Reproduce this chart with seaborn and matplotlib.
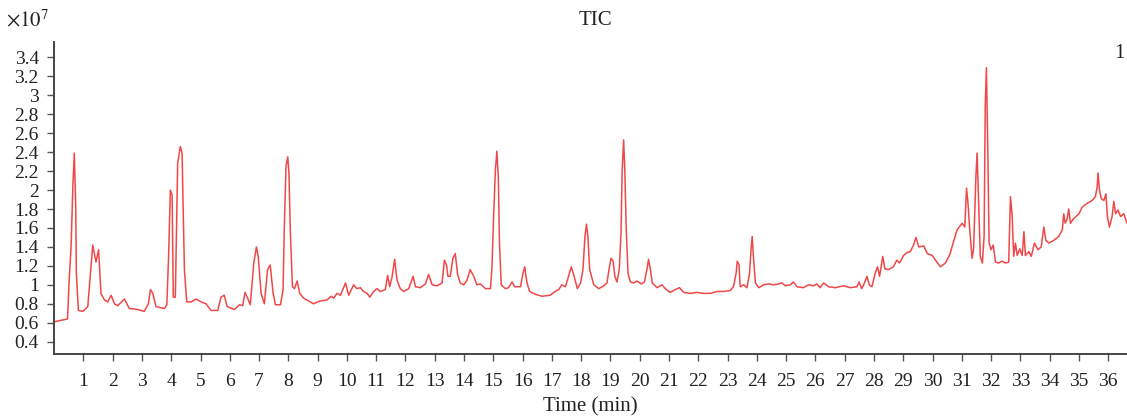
import numpy as np
import pandas as pd
import matplotlib
matplotlib.use("Agg")
import matplotlib.pyplot as plt
import seaborn as sns

# Tempo de retencao (min) e intensidade do TIC (x1e7)
tempo = [
    0.00, 0.46, 0.51, 0.58, 0.64, 0.69, 0.74, 0.76, 0.83, 0.98, 1.15, 1.24, 1.32, 1.43, 1.52,
    1.60, 1.72, 1.83, 1.95, 2.06, 2.17, 2.40, 2.57, 2.85, 3.08, 3.22, 3.29, 3.37, 3.48, 3.77,
    3.85, 3.91, 3.97, 4.03, 4.07, 4.14, 4.22, 4.31, 4.37, 4.45, 4.53, 4.68, 4.85, 5.02, 5.19,
    5.36, 5.59, 5.70, 5.81, 5.91, 6.16, 6.33, 6.44, 6.52, 6.61, 6.70, 6.82, 6.91, 6.97, 7.07,
    7.18, 7.29, 7.38, 7.48, 7.56, 7.73, 7.82, 7.86, 7.92, 7.98, 8.02, 8.07, 8.14, 8.21, 8.30,
    8.39, 8.52, 8.69, 8.86, 9.09, 9.32, 9.46, 9.55, 9.66, 9.78, 9.95, 10.06, 10.23, 10.34, 10.46,
    10.57, 10.69, 10.78, 10.91, 11.03, 11.14, 11.31, 11.39, 11.46, 11.54, 11.63, 11.71, 11.82, 11.94, 12.11,
    12.26, 12.34, 12.51, 12.68, 12.79, 12.91, 13.08, 13.25, 13.33, 13.40, 13.45, 13.53, 13.62, 13.70, 13.78,
    13.87, 13.99, 14.10, 14.21, 14.33, 14.44, 14.56, 14.73, 14.90, 14.95, 15.01, 15.07, 15.12, 15.17, 15.21,
    15.27, 15.41, 15.52, 15.64, 15.73, 15.93, 16.01, 16.07, 16.15, 16.24, 16.43, 16.66, 16.94, 17.11, 17.23,
    17.34, 17.46, 17.57, 17.66, 17.76, 17.87, 17.98, 18.06, 18.13, 18.18, 18.23, 18.29, 18.43, 18.60, 18.77,
    18.88, 18.95, 19.02, 19.09, 19.15, 19.22, 19.30, 19.36, 19.40, 19.45, 19.49, 19.54, 19.60, 19.68, 19.79,
    19.91, 20.05, 20.16, 20.25, 20.30, 20.36, 20.43, 20.59, 20.76, 20.87, 21.04, 21.21, 21.36, 21.50, 21.73,
    21.95, 22.18, 22.41, 22.64, 22.86, 23.09, 23.20, 23.29, 23.33, 23.39, 23.43, 23.55, 23.66, 23.75, 23.80,
    23.84, 23.89, 23.95, 24.06, 24.23, 24.40, 24.57, 24.74, 24.86, 24.97, 25.14, 25.25, 25.37, 25.59, 25.76,
    25.94, 26.05, 26.16, 26.28, 26.45, 26.68, 26.96, 27.19, 27.42, 27.49, 27.58, 27.66, 27.76, 27.84, 27.93,
    28.04, 28.12, 28.19, 28.30, 28.37, 28.49, 28.66, 28.78, 28.87, 29.01, 29.12, 29.24, 29.35, 29.43, 29.53,
    29.70, 29.82, 29.99, 30.10, 30.27, 30.44, 30.59, 30.73, 30.84, 31.01, 31.10, 31.16, 31.21, 31.27, 31.35,
    31.40, 31.48, 31.52, 31.57, 31.63, 31.70, 31.76, 31.80, 31.84, 31.89, 31.93, 32.00, 32.07, 32.15, 32.26,
    32.37, 32.49, 32.60, 32.66, 32.72, 32.77, 32.83, 32.89, 32.98, 33.06, 33.12, 33.17, 33.29, 33.37, 33.48,
    33.60, 33.71, 33.80, 33.87, 33.97, 34.14, 34.31, 34.43, 34.48, 34.53, 34.60, 34.65, 34.71, 34.82, 35.00,
    35.11, 35.28, 35.45, 35.56, 35.62, 35.65, 35.70, 35.76, 35.85, 35.92, 35.97, 36.04, 36.13, 36.19, 36.25,
    36.33, 36.42, 36.53, 36.64,
]
intensidade = [
    0.61, 0.64, 1.02, 1.40, 2.03, 2.39, 1.81, 1.12, 0.73, 0.72, 0.77, 1.12, 1.42, 1.24, 1.37,
    0.91, 0.84, 0.82, 0.89, 0.80, 0.78, 0.85, 0.75, 0.74, 0.72, 0.80, 0.95, 0.91, 0.77, 0.75,
    0.79, 1.30, 2.00, 1.95, 0.87, 0.87, 2.28, 2.46, 2.39, 1.16, 0.82, 0.82, 0.85, 0.82, 0.80,
    0.73, 0.73, 0.87, 0.89, 0.77, 0.74, 0.79, 0.78, 0.92, 0.86, 0.79, 1.23, 1.40, 1.30, 0.91,
    0.80, 1.16, 1.21, 0.91, 0.79, 0.79, 0.95, 1.58, 2.25, 2.35, 2.18, 1.54, 0.98, 0.96, 1.04,
    0.91, 0.86, 0.83, 0.80, 0.83, 0.84, 0.88, 0.86, 0.91, 0.89, 1.02, 0.89, 1.00, 0.96, 0.97,
    0.93, 0.91, 0.87, 0.93, 0.96, 0.93, 0.95, 1.10, 0.98, 1.08, 1.27, 1.05, 0.96, 0.93, 0.96,
    1.09, 0.98, 0.97, 1.01, 1.11, 1.00, 0.99, 1.02, 1.26, 1.21, 1.09, 1.09, 1.28, 1.33, 1.11,
    1.02, 1.00, 1.05, 1.16, 1.09, 1.00, 1.01, 0.96, 0.96, 1.16, 1.72, 2.21, 2.41, 2.14, 1.44,
    1.00, 0.96, 0.97, 1.03, 0.98, 0.98, 1.12, 1.19, 1.02, 0.93, 0.90, 0.88, 0.89, 0.93, 0.95,
    1.00, 0.98, 1.09, 1.19, 1.09, 0.96, 1.02, 1.16, 1.51, 1.64, 1.51, 1.16, 1.00, 0.96, 0.99,
    1.02, 1.16, 1.28, 1.25, 1.09, 1.03, 1.16, 1.54, 2.21, 2.53, 2.21, 1.58, 1.12, 1.03, 1.02,
    1.04, 1.01, 1.03, 1.17, 1.27, 1.17, 1.02, 0.97, 1.00, 0.96, 0.92, 0.95, 0.97, 0.92, 0.91,
    0.92, 0.91, 0.91, 0.93, 0.93, 0.94, 0.98, 1.12, 1.25, 1.21, 0.98, 1.00, 0.97, 1.12, 1.37,
    1.51, 1.26, 1.02, 0.97, 1.00, 1.01, 1.00, 1.01, 1.02, 0.99, 1.00, 1.03, 0.98, 0.97, 1.00,
    0.99, 1.01, 0.97, 1.02, 0.98, 0.97, 0.99, 0.97, 0.98, 1.03, 0.96, 1.01, 1.09, 1.00, 0.98,
    1.12, 1.19, 1.09, 1.30, 1.17, 1.16, 1.19, 1.26, 1.23, 1.31, 1.34, 1.35, 1.42, 1.50, 1.40,
    1.41, 1.33, 1.31, 1.26, 1.19, 1.23, 1.32, 1.47, 1.58, 1.65, 1.61, 2.02, 1.86, 1.58, 1.28,
    1.37, 2.14, 2.39, 1.89, 1.30, 1.23, 1.51, 2.91, 3.29, 2.35, 1.44, 1.37, 1.42, 1.24, 1.23,
    1.25, 1.23, 1.24, 1.93, 1.72, 1.30, 1.44, 1.31, 1.38, 1.31, 1.56, 1.31, 1.35, 1.30, 1.44,
    1.37, 1.40, 1.61, 1.47, 1.44, 1.47, 1.51, 1.58, 1.75, 1.65, 1.70, 1.80, 1.65, 1.70, 1.75,
    1.82, 1.86, 1.89, 1.93, 2.03, 2.18, 2.00, 1.91, 1.89, 1.96, 1.72, 1.61, 1.72, 1.88, 1.75,
    1.79, 1.72, 1.75, 1.65,
]
yticks = [0.4, 0.6, 0.8, 1.0, 1.2, 1.4, 1.6, 1.8, 2.0, 2.2, 2.4, 2.6, 2.8, 3.0, 3.2, 3.4]
xticks = list(range(1, 37))

df = pd.DataFrame({"Tempo": tempo, "TIC": intensidade})

sns.set_style("ticks")
plt.rcParams["font.family"] = ["Liberation Serif", "DejaVu Serif"]
plt.rcParams["mathtext.fontset"] = "stix"

fig = plt.figure(figsize=(11.27, 4.17), dpi=100)
ax = fig.add_axes([0.048, 0.151, 0.952, 0.749])

sns.lineplot(data=df, x="Tempo", y="TIC", color="#f04848", linewidth=1.1,
             estimator=None, sort=False, ax=ax)

ax.set_xlim(0, 36.64)
ax.set_ylim(0.27, 3.565)
ax.set_xticks(xticks)
ax.set_xticklabels([str(t) for t in xticks])
ax.set_yticks(yticks)
ax.set_yticklabels([f"{v:g}" for v in yticks])
ax.tick_params(axis="both", direction="out", length=5, width=1, color="#555555",
               labelsize=14, labelcolor="#222222")
ax.tick_params(axis="x", pad=9)
ax.tick_params(axis="y", pad=6)

for lado in ["top", "right"]:
    ax.spines[lado].set_visible(False)
for lado in ["left", "bottom"]:
    ax.spines[lado].set_color("#444444")
    ax.spines[lado].set_linewidth(1.4)

ax.set_xlabel("Time (min)", fontsize=15, color="#222222", labelpad=5)
ax.set_ylabel("")

fig.text(0.528, 0.951, "TIC", ha="center", va="center", fontsize=15, color="#222222")
fig.text(0.005, 0.952, r"$\times10^{7}$", ha="left", va="center", fontsize=15, color="#222222")
fig.text(0.9935, 0.872, "1", ha="center", va="center", fontsize=15, color="#222222")

fig.savefig("out.png", dpi=100)
